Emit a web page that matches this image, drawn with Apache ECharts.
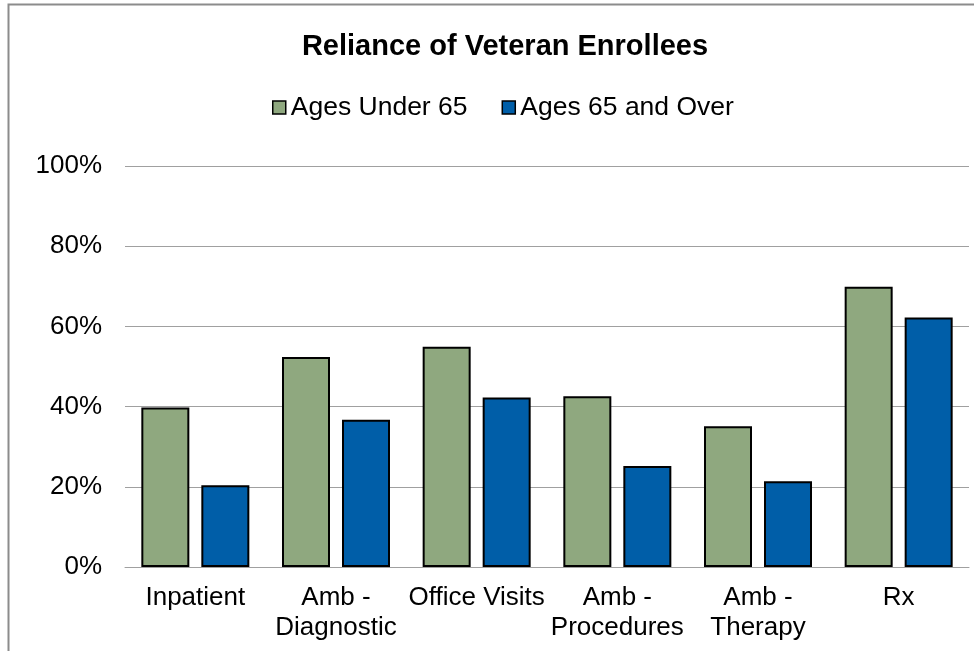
<!DOCTYPE html>
<html>
<head>
<meta charset="utf-8">
<script src="https://cdn.jsdelivr.net/npm/echarts@6/dist/echarts.min.js"></script>
<style>html,body{margin:0;padding:0;background:#fff}#c{width:974px;height:651px}</style>
</head>
<body>
<div id="c"></div>
<script>
const titleText = 'Reliance of Veteran Enrollees';
const categories = ['Inpatient', 'Amb -\nDiagnostic', 'Office Visits', 'Amb -\nProcedures', 'Amb -\nTherapy', 'Rx'];
const seriesNames = ['Ages Under 65', 'Ages 65 and Over'];
const under65 = [39.8, 52.4, 54.9, 42.6, 35.1, 69.9];
const over65 = [20.4, 36.7, 42.3, 25.2, 21.4, 62.2];
const yTicks = [0, 20, 40, 60, 80, 100];

const chart = echarts.init(document.getElementById('c'), null, {renderer: 'canvas'});
const font = 'Liberation Sans, Arial, sans-serif';
chart.setOption({
  animation: false,
  backgroundColor: '#fff',
  graphic: [{
    type: 'rect', silent: true, z: 100,
    shape: {x: 8.5, y: 4.5, width: 1000, height: 700},
    style: {fill: 'none', stroke: '#8c8c8c', lineWidth: 2}
  }],
  title: {
    text: titleText, left: 500, textAlign: 'center', top: 27,
    textStyle: {fontFamily: font, fontSize: 29, fontWeight: 'bold', color: '#000'}
  },
  legend: {
    data: seriesNames, left: 267, top: 89, itemWidth: 13, itemHeight: 13, itemGap: 34,
    icon: 'rect',
    textStyle: {fontFamily: font, fontSize: 26.5, color: '#000'},
    itemStyle: {borderColor: '#000', borderWidth: 1.5}
  },
  grid: {left: 125, right: 5, top: 166, bottom: 84, containLabel: false},
  xAxis: {
    type: 'category', data: categories,
    axisLine: {show: true, lineStyle: {color: '#a0a0a0', width: 1}},
    axisTick: {show: false},
    axisLabel: {interval: 0, fontFamily: font, fontSize: 26, color: '#000', margin: 16, lineHeight: 30}
  },
  yAxis: {
    type: 'value', min: 0, max: 100, interval: 20,
    axisLine: {show: false}, axisTick: {show: false},
    splitLine: {lineStyle: {color: '#a0a0a0', width: 1}},
    axisLabel: {fontFamily: font, fontSize: 26, color: '#000', margin: 23,
      formatter: v => yTicks.includes(v) ? v + '%' : ''}
  },
  series: [
    {name: seriesNames[0], type: 'bar', data: under65, barWidth: 48, barGap: '25%',
     itemStyle: {color: '#8FA87F', borderColor: '#000', borderWidth: 2}},
    {name: seriesNames[1], type: 'bar', data: over65, barWidth: 48, barGap: '25%',
     itemStyle: {color: '#005EA8', borderColor: '#000', borderWidth: 2}}
  ]
});
</script>
</body>
</html>
